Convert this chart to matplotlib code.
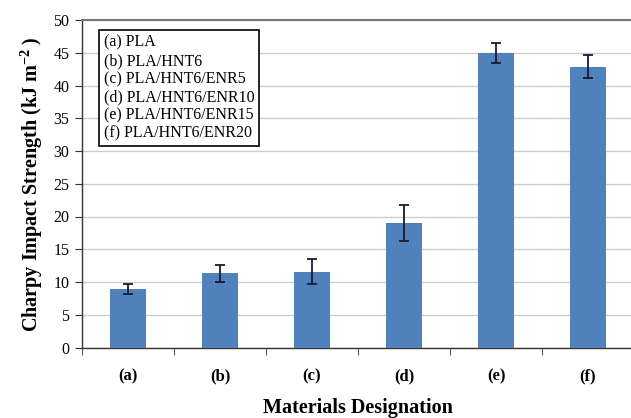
import matplotlib
matplotlib.use("Agg")
import matplotlib.pyplot as plt
import numpy as np

categories = ["(a)", "(b)", "(c)", "(d)", "(e)", "(f)"]
values = [8.9, 11.3, 11.6, 19.0, 45.0, 42.9]
errors = [0.75, 1.35, 1.9, 2.7, 1.5, 1.7]
legend_lines = ["(a) PLA", "(b) PLA/HNT6", "(c) PLA/HNT6/ENR5",
                "(d) PLA/HNT6/ENR10", "(e) PLA/HNT6/ENR15", "(f) PLA/HNT6/ENR20"]
yticks = [0, 5, 10, 15, 20, 25, 30, 35, 40, 45, 50]

plt.rcParams['font.family'] = ['Liberation Serif', 'DejaVu Serif']
plt.rcParams['mathtext.fontset'] = 'custom'
plt.rcParams['mathtext.rm'] = 'Liberation Serif'
plt.rcParams['mathtext.bf'] = 'Liberation Serif:bold'

fig = plt.figure(figsize=(6.31, 4.18), dpi=100)
ax = fig.add_axes([82/631, 70.5/418, 552/631, 327.5/418])

x = np.arange(len(categories))
ax.bar(x, values, width=0.4, color="#4F81BD", zorder=3)
ax.errorbar(x, values, yerr=errors, fmt="none", ecolor="#1a1a2e",
            elinewidth=1.3, capsize=3.5, capthick=1.3, zorder=4)

ax.set_xlim(-0.5, len(categories) - 0.5)
ax.set_ylim(0, 50)
ax.set_yticks(yticks)
ax.set_yticklabels([str(t) for t in yticks], fontsize=11.5)
ax.set_xticks(x)
ax.set_xticklabels(categories, fontsize=12, fontweight="bold")
ax.set_xticks(np.arange(-0.5, len(categories)), minor=True)
ax.tick_params(axis="x", which="major", length=0, pad=15)
ax.tick_params(axis="x", which="minor", length=5, direction="out", color="#333333")
ax.tick_params(axis="y", length=5, direction="out", color="#333333", pad=4)

ax.yaxis.grid(True, color="#cccccc", linewidth=1.0, zorder=0)
ax.set_axisbelow(True)

for s in ["left", "bottom"]:
    ax.spines[s].set_color("#333333")
    ax.spines[s].set_linewidth(1.0)
ax.spines["top"].set_color("#777777")
ax.spines["top"].set_linewidth(1.5)
ax.spines["right"].set_visible(False)

ax.set_ylabel("Charpy Impact Strength (kJ m$\\mathbf{^{-2}}$ )", fontsize=14.5,
              fontweight="bold", labelpad=6)
ax.set_xlabel("Materials Designation", fontsize=14.5, fontweight="bold", labelpad=10)

ax.text(0.04, 0.955, "\n".join(legend_lines), transform=ax.transAxes,
        fontsize=11.5, va="top", ha="left", linespacing=1.18,
        bbox=dict(boxstyle="square,pad=0.3", facecolor="white",
                  edgecolor="black", linewidth=1.2), zorder=5)

fig.savefig("out.png", dpi=100)
